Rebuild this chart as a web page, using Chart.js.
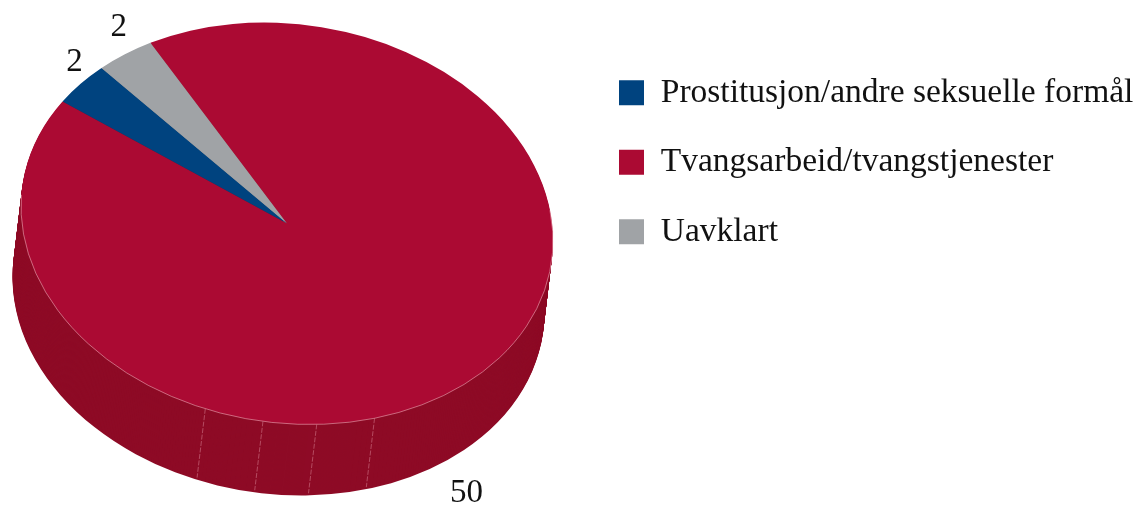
<!DOCTYPE html>
<html><head><meta charset="utf-8">
<style>html,body{margin:0;padding:0;background:#fff}canvas{display:block}</style>
<script src="https://cdn.jsdelivr.net/npm/chart.js@4/dist/chart.umd.min.js"></script>
</head><body><canvas id="c" width="1140" height="507"></canvas>
<script>
const categories = ['Prostitusjon/andre seksuelle formål','Tvangsarbeid/tvangstjenester','Uavklart'];
const values = [2,50,2];
const colors = ['#00437f','#ab0a33','#a0a3a6'];
const wallColors = ['#00305c','#8e0b26','#77797c'];
const seamAngles = [168.4,181.1,192.7,205.5,283.2];
const labelNudge = [[-6,-21],[-6,114.5],[-6,-27]];
const FONT = '"Liberation Serif","Times New Roman",serif';
const V = {cx:287,cy:223.5,rx:267.3,ry:199.3,tilt:8.4*Math.PI/180,dx:-8.5,dy:71,rimFrom:93,rimTo:285};

function project(arc){
  const sx=V.rx/arc.outerRadius, sy=V.ry/arc.outerRadius;
  return (ctx,ox=0,oy=0)=>{
    ctx.translate(V.cx+ox,V.cy+oy);
    ctx.rotate(V.tilt);
    ctx.scale(-sx,sy);
    ctx.translate(-arc.x,-arc.y);
  };
}
function matrixFor(arc){
  const tmp=document.createElement('canvas').getContext('2d');
  project(arc)(tmp);
  return tmp.getTransform();
}
const pie3d = {
  id:'pie3d',
  afterLayout(chart){
    const l=chart.legend, p=l.options.labels.padding;
    l.left=619-p; l.top=76-p;
  },
  beforeDatasetsDraw(chart){
    const ctx=chart.ctx, arcs=chart.getDatasetMeta(0).data, xf=project(arcs[0]);
    const arc0=arcs[0];
    const steps=Math.ceil(Math.abs(V.dy));
    for(let s=steps;s>=1;s--){
      ctx.save();
      xf(ctx,V.dx*s/steps,V.dy*s/steps);
      arcs.forEach((a,i)=>{
        const ghost=Object.create(a,{options:{value:Object.assign({},a.options,{backgroundColor:wallColors[i]})}});
        ghost.draw(ctx);
      });
      ctx.restore();
    }
    ctx.save();
    ctx.strokeStyle='rgba(240,170,185,.5)'; ctx.lineWidth=0.8; ctx.setLineDash([5,1.5]);
    const mx=matrixFor(arc0);
    seamAngles.forEach(d=>{
      const t=(d-90)*Math.PI/180;
      const p=mx.transformPoint(new DOMPoint(arc0.x+arc0.outerRadius*Math.cos(t),arc0.y+arc0.outerRadius*Math.sin(t)));
      ctx.beginPath(); ctx.moveTo(p.x,p.y); ctx.lineTo(p.x+V.dx*.97,p.y+V.dy*.97); ctx.stroke();
    });
    ctx.restore();
    ctx.save();
    xf(ctx);
  },
  afterDatasetsDraw(chart){
    const ctx=chart.ctx, arcs=chart.getDatasetMeta(0).data, a=arcs[0];
    ctx.restore();
    const mx=matrixFor(a);
    ctx.save();
    ctx.setTransform(mx);
    ctx.beginPath();
    ctx.arc(a.x,a.y,a.outerRadius,(V.rimFrom-90)*Math.PI/180,(V.rimTo-90)*Math.PI/180);
    ctx.setTransform(1,0,0,1,0,0);
    ctx.strokeStyle='rgba(245,190,200,.75)'; ctx.lineWidth=0.7; ctx.stroke();
    ctx.restore();
    ctx.save();
    ctx.font='33px '+FONT; ctx.fillStyle='#111'; ctx.textAlign='center'; ctx.textBaseline='middle';
    arcs.forEach((arc,i)=>{
      const t=(arc.startAngle+arc.endAngle)/2;
      const p=mx.transformPoint(new DOMPoint(arc.x+arc.outerRadius*Math.cos(t),arc.y+arc.outerRadius*Math.sin(t)));
      ctx.fillText(String(values[i]),p.x+labelNudge[i][0],p.y+labelNudge[i][1]);
    });
    ctx.restore();
  }
};
new Chart(document.getElementById('c'),{
  type:'pie',
  data:{labels:categories,datasets:[{data:values,backgroundColor:colors,borderWidth:0,clip:false}]},
  options:{
    responsive:false,animation:false,rotation:50.5,
    layout:{padding:0},
    plugins:{
      tooltip:{enabled:false},
      legend:{position:'right',align:'start',
        labels:{boxWidth:25,boxHeight:25,padding:36,color:'#111',font:{family:FONT,size:33.5}}}
    }
  },
  plugins:[pie3d]
});
</script></body></html>
